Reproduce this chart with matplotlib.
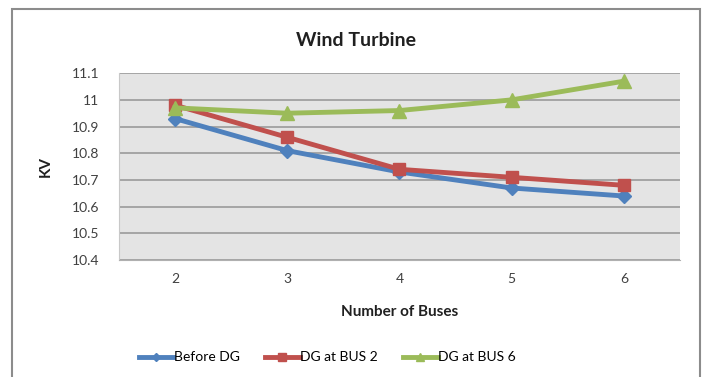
import matplotlib.pyplot as plt
from matplotlib.patches import Rectangle

# data
buses = ["2", "3", "4", "5", "6"]
before_dg = [10.93, 10.81, 10.73, 10.67, 10.64]
dg_bus2 = [10.98, 10.86, 10.74, 10.71, 10.68]
dg_bus6 = [10.97, 10.95, 10.96, 11.00, 11.07]
y_ticks = [10.4, 10.5, 10.6, 10.7, 10.8, 10.9, 11.0, 11.1]
y_labels = ["10.4", "10.5", "10.6", "10.7", "10.8", "10.9", "11", "11.1"]

plt.rcParams['font.family'] = ['Lato', 'DejaVu Sans']

fig = plt.figure(figsize=(7.07, 3.77), dpi=100)
fig.patch.set_facecolor('white')

# outer chart frame
fig.patches.append(Rectangle((0.017, -0.02), 0.973, 0.996, transform=fig.transFigure,
                             fill=False, edgecolor='#8c8c8c', linewidth=1.5))

ax = fig.add_axes([0.168, 0.310, 0.794, 0.496])
ax.set_facecolor('#e4e4e4')

x = range(len(buses))
ax.plot(x, before_dg, color='#4f81bd', linewidth=3.5, marker='D', markersize=7, label='Before DG')
ax.plot(x, dg_bus2, color='#c0504d', linewidth=3.5, marker='s', markersize=9, label='DG at BUS 2')
ax.plot(x, dg_bus6, color='#9bbb59', linewidth=3.5, marker='^', markersize=10, label='DG at BUS 6')

ax.set_xlim(-0.5, len(buses) - 0.5)
ax.set_ylim(10.4, 11.1)
ax.set_xticks(list(x))
ax.set_xticklabels(buses)
ax.set_yticks(y_ticks)
ax.set_yticklabels(y_labels)
ax.yaxis.grid(True, color='#9a9a9a', linewidth=1.2)
ax.set_axisbelow(True)
ax.tick_params(length=0, labelsize=10, colors='#404040', pad=9)
ax.tick_params(axis='y', pad=14)
for s in ['top', 'right']:
    ax.spines[s].set_visible(False)
ax.spines['left'].set_color('#c8c8c8')
ax.spines['bottom'].set_color('#b0b0b0')

# title is centred on the whole chart frame, not the plot area
fig.text(0.503, 0.893, 'Wind Turbine', fontsize=14, fontweight='bold', color='#202020',
         ha='center', va='center')
ax.set_xlabel('Number of Buses', fontsize=11, fontweight='bold', color='#202020', labelpad=15)
ax.set_ylabel('KV', fontsize=11, fontweight='bold', color='#202020', labelpad=14)

fig.legend(loc='center', bbox_to_anchor=(0.463, 0.052), ncol=3, frameon=False,
           fontsize=10, handlelength=2.5, handletextpad=0.05, columnspacing=1.8,
           markerscale=0.6)

fig.savefig('out.png', dpi=100)
